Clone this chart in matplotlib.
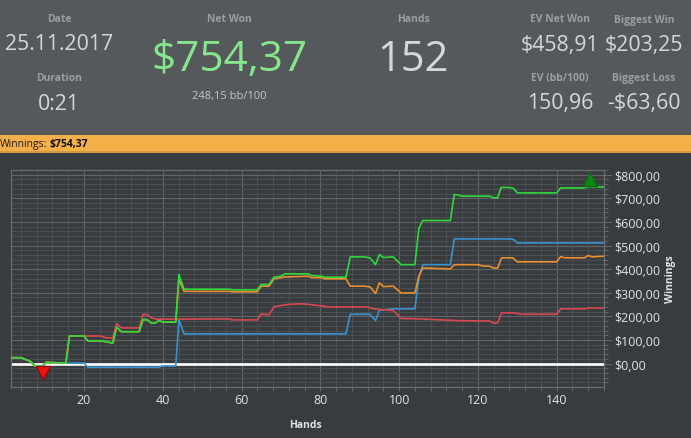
#!/usr/bin/env python3
"""Session summary panel with winnings graph."""

import matplotlib
matplotlib.use('Agg')
import matplotlib.pyplot as plt
from matplotlib.patches import Circle, Rectangle
from matplotlib.ticker import FuncFormatter, MultipleLocator

W, H = 691, 439

green_hands = [1.4, 4, 6.3, 7.6, 9.5, 10.4, 15.4, 16.3, 20, 21, 24.5, 27.3, 28.3, 29.5, 34, 35, 36, 37.2, 38, 39, 40,
               43.3, 44.1, 45.4, 57, 57.6, 64, 65, 67, 68.2, 70, 71, 77, 77.8, 80.4, 81, 86.5, 87.6, 91, 92.6, 94, 95,
               96, 98.5, 100.5, 104, 105, 106, 113, 114, 115, 115.9, 123, 124, 125, 125.9, 128, 129, 130, 140, 141,
               147, 148, 152]
green_vals = [25, 25, 10, -10, -10, 5, 2, 117, 117, 96, 96, 87, 154, 135, 135, 186, 186, 171, 171, 182, 176,
              176, 378, 315, 315, 312, 312, 335, 335, 366, 370, 380, 380, 373, 370, 366, 366, 452, 452, 448, 419, 462,
              449, 452, 419, 419, 572, 606, 606, 716, 714, 709, 709, 702, 702, 746, 746, 742, 723, 723, 744,
              744, 749, 748]

orange_hands = [1.4, 4, 6.3, 7.6, 9.5, 10.4, 15.4, 16.3, 20, 21, 24.5, 27.3, 28.3, 29.5, 34, 35, 36, 37.2, 38, 39, 40,
                43.3, 44.1, 45.4, 57, 57.6, 64, 65, 67, 68.2, 70, 71, 77, 77.8, 80.4, 81, 86.5, 87.6, 91, 92.6, 94, 95,
                96, 98.5, 100.5, 104, 105, 106, 113, 114, 120, 121, 123, 124, 125, 126, 128, 129, 130, 140, 141,
                142, 147, 148, 149, 152]
orange_vals = [25, 25, 10, -10, -10, 5, 2, 117, 117, 96, 96, 87, 154, 135, 135, 186, 186, 171, 171, 182, 176,
               176, 356, 306, 306, 304, 304, 328, 328, 359, 364, 367, 370, 364, 364, 359, 359, 328, 328, 325, 297, 342,
               326, 328, 299, 299, 370, 405, 401, 419, 419, 414, 412, 405, 405, 448, 448, 446, 431, 431, 453,
               448, 448, 458, 452, 455]

blue_hands = [1.4, 4, 6.3, 7.6, 9.5, 10.4, 15.4, 16.3, 20, 21, 39, 40, 43.3, 44.1, 45.4, 86.5, 87.6, 92.6, 94, 95,
              98.5, 104, 105, 106, 113, 114, 128, 129, 130, 152]
blue_vals = [25, 25, 10, -10, -10, 5, 2, 2, 2, -15, -15, -10, -10, 186, 126, 126, 209, 209, 182, 226,
             232, 232, 363, 419, 419, 528, 528, 526, 511, 511]

red_hands = [1.4, 4, 6.3, 7.6, 9.5, 10.4, 15.4, 16.3, 21, 24.5, 25.5, 27.3, 28.3, 29.5, 34, 35, 36, 37.2, 38.5, 57, 57.6,
             64, 65, 67, 68.2, 70, 72, 75, 77, 80.4, 82, 92, 93, 95, 98.5, 100.5, 104, 109.5, 115, 123, 124, 125, 126,
             129, 131, 140, 141, 147, 148, 152]
red_vals = [25, 25, 10, -10, -10, 5, 2, 117, 117, 117, 109, 109, 169, 151, 151, 208, 208, 193, 188, 189, 185,
            185, 210, 207, 240, 246, 251, 253, 251, 244, 240, 240, 234, 229, 225, 191, 190, 186, 182, 180, 171, 173, 215,
            215, 209, 209, 232, 232, 236, 235]

best_hand, best_val = 148.5, 781
worst_hand, worst_val = 9.5, -38

x_major = 20
x_minor = 4
y_major = 100
y_minor = 20


def fx(px):
    return px / W


def fy(py):
    return 1 - py / H


def label(px, py, text, size, color, **kw):
    fig.text(fx(px), fy(py), text, fontsize=size, color=color, ha='center', va='center', **kw)


plt.rcParams['font.family'] = ['Open Sans', 'DejaVu Sans']

fig = plt.figure(figsize=(W / 100, H / 100), dpi=100, facecolor='#393c3f')

# header panel and orange bar
fig.patches.append(Rectangle((0, fy(136)), 1, 136 / H, transform=fig.transFigure, color='#56595c', lw=0))
fig.patches.append(Rectangle((0, fy(154)), 1, 18 / H, transform=fig.transFigure, color='#f5b04a', lw=0))
fig.patches.append(Rectangle((0, fy(154)), 1, 2 / H, transform=fig.transFigure, color='#d89a40', lw=0))

head = '#9c9ea0'
val = '#d6d7d8'
label(59, 20, 'Date', 7.5, head, fontweight='bold')
label(59, 45, '25.11.2017', 15.3, val)
label(59, 79, 'Duration', 7.5, head, fontweight='bold')
label(59, 104, '0:21', 15.3, val)
label(229, 20, 'Net Won', 7.5, head, fontweight='bold')
label(229, 60, '$754,37', 30.5, '#86e68c')
label(229, 96, '248,15 bb/100', 8, '#c4c5c6')
label(413, 20, 'Hands', 7.5, head, fontweight='bold')
label(413, 60, '152', 30, val)
label(560, 20, 'EV Net Won', 7.5, head, fontweight='bold')
label(560, 45, '$458,91', 15.3, val)
label(560, 79, 'EV (bb/100)', 7.5, head, fontweight='bold')
label(560, 104, '150,96', 15.3, val)
label(644, 20, 'Biggest Win', 7.5, head, fontweight='bold')
label(644, 45, '$203,25', 15.3, val)
label(644, 79, 'Biggest Loss', 7.5, head, fontweight='bold')
label(644, 104, '-$63,60', 15.3, val)

fig.text(fx(0), fy(144.5), 'Winnings:', fontsize=7.5, color='#1a1a1a', ha='left', va='center')
fig.text(fx(50), fy(144.5), '$754,37', fontsize=7.5, color='#111111', ha='left', va='center', fontweight='bold')

# help icon
icon = fig.add_axes([fx(677), fy(151), 14 / W, 14 / H])
icon.set_xlim(-1, 1)
icon.set_ylim(-1, 1)
icon.axis('off')
icon.add_patch(Circle((0, 0), 0.9, color='#1f6fc0', ec='#0f4a8a', lw=0.6))
icon.text(0, -0.05, '?', color='white', fontsize=6.5, fontweight='bold', ha='center', va='center')

# graph
ax = fig.add_axes([fx(10.5), fy(387.5), (604 - 10.5) / W, (387 - 170) / H], facecolor='#393c3f')
ax.set_xlim(1.35, 152)
ax.set_ylim(-97, 822)

ax.xaxis.set_major_locator(MultipleLocator(x_major))
ax.xaxis.set_minor_locator(MultipleLocator(x_minor))
ax.yaxis.set_major_locator(MultipleLocator(y_major))
ax.yaxis.set_minor_locator(MultipleLocator(y_minor))
ax.yaxis.set_major_formatter(FuncFormatter(lambda v, p: f'${v:.2f}'.replace('.', ',')))
ax.yaxis.tick_right()
ax.yaxis.set_label_position('right')

ax.grid(which='major', color='#616468', lw=0.8)
ax.grid(which='minor', color='#4b4e52', lw=0.7)
ax.set_axisbelow(True)
ax.tick_params(which='major', axis='y', length=6, width=0.75, color='#63666a', labelcolor='#e2e2e2', labelsize=9, pad=1.5)
ax.tick_params(which='minor', axis='y', length=3, width=0.7, color='#63666a')
ax.tick_params(which='major', axis='x', length=3, width=0.75, color='#63666a', labelcolor='#e2e2e2', labelsize=9, pad=1.5)
ax.tick_params(which='minor', axis='x', length=3, width=0.7, color='#63666a')
for spine in ax.spines.values():
    spine.set_color('#696c70')
    spine.set_linewidth(0.9)

ax.axhline(0, color='white', lw=1.9, zorder=2)
ax.plot(blue_hands, blue_vals, color='#3a93cf', lw=1.2, zorder=3)
ax.plot(red_hands, red_vals, color='#d9484f', lw=1.2, zorder=4)
ax.plot(orange_hands, orange_vals, color='#ea8f2e', lw=1.2, zorder=5)
ax.plot(green_hands, green_vals, color='#2fd83a', lw=1.2, zorder=6)
ax.plot(best_hand, best_val, marker='^', ms=10, color='#0a8a12', mec='#0a6a10', zorder=7, clip_on=False)
ax.plot(worst_hand, worst_val, marker='v', ms=10, color='#f01010', mec='#8a1010', zorder=7, clip_on=False)

ax.set_xlabel('Hands', color='#e2e2e2', fontsize=7.5, fontweight='bold')
ax.xaxis.set_label_coords((306 - 10.5) / (604 - 10.5), -(425 - 387) / (387 - 170), transform=ax.transAxes)
ax.xaxis.label.set_va('center')
ax.set_ylabel('Winnings', color='#e2e2e2', fontsize=7.5, fontweight='bold')
ax.yaxis.set_label_coords((671 - 10.5) / (604 - 10.5), (387 - 279) / (387 - 170), transform=ax.transAxes)
ax.yaxis.label.set_va('center')

fig.savefig('out.png', dpi=100, facecolor=fig.get_facecolor())
plt.close(fig)
